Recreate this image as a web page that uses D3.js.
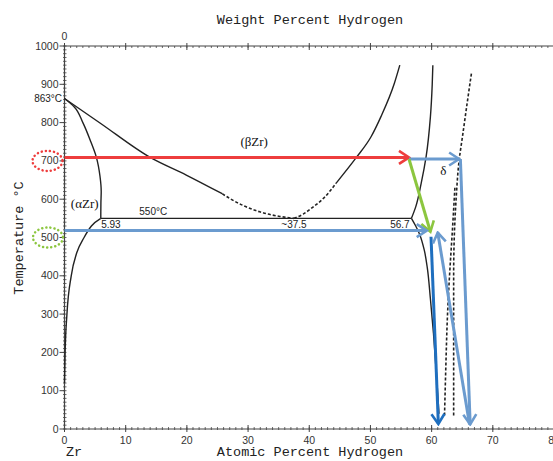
<!DOCTYPE html>
<html lang="en">
<head>
<meta charset="UTF-8" />
<title>Zr-H phase diagram</title>
<style>
    html, body { margin: 0; background: #fff; }
    svg { display: block; }
    .tick-label { font-family: "Liberation Sans", Arial, sans-serif; font-size: 10.5px; fill: #333; }
    .title { font-family: "Liberation Mono", monospace; font-size: 13.5px; fill: #222; }
    .phase { font-family: "Liberation Serif", serif; font-size: 13px; fill: #111; }
    .note { font-family: "Liberation Sans", Arial, sans-serif; font-size: 10px; fill: #222; }
</style>
</head>
<body>
<div id="chart"></div>
<script src="https://cdn.jsdelivr.net/npm/d3@7"></script>
<script>
// phase boundaries, [atomic % H, temperature °C]
const alphaSolvus = [[0, 120], [0.1, 200], [0.4, 300], [1.1, 400], [2.0, 460], [3.2, 500], [4.4, 530], [5.93, 550]];
const alphaBeta = [[0, 863], [1.6, 841], [3.0, 800], [4.3, 750], [5.2, 710], [5.8, 660], [6.0, 620], [5.95, 590], [5.93, 550]];
const betaLeftSolid = [[0, 863], [5.8, 799], [14.0, 709], [19.9, 663], [25.8, 614]];
const betaLeftDashed = [[25.8, 614], [27.0, 602], [31.9, 567], [35.2, 555], [37.5, 550]];
const betaRightDashed = [[37.5, 550], [39, 561], [40.5, 578], [42.5, 605], [44.4, 642]];
const betaRightSolid = [[44.4, 642], [47.7, 709], [50.1, 763], [51.7, 815], [53.9, 902], [54.8, 950]];
const deltaUpper = [[56.7, 550], [57.4, 580], [58.3, 642], [59.1, 711], [59.8, 815], [60.1, 900], [60.2, 950]];
const deltaLower = [[56.7, 550], [57.4, 530], [58.0, 510], [58.8, 467], [59.3, 420], [59.8, 340], [60.3, 250], [60.8, 140], [61.2, 40]];
const eutectoid = [[5.93, 550], [56.7, 550]];
const dashedA = [[66.5, 928], [65.8, 850], [65.1, 770], [64.5, 702], [64.0, 600], [63.7, 500], [63.6, 400], [63.6, 200], [63.6, 30]];
const dashedB = [[63.8, 630], [63.4, 520], [63.0, 420], [62.6, 300], [62.3, 150], [62.1, 30]];

// curves that run left-to-right use monotoneX, steep ones monotoneY
const solidX = [alphaSolvus, betaLeftSolid, betaRightSolid, eutectoid];
const solidY = [alphaBeta, deltaUpper, deltaLower];
const dashedX = [betaLeftDashed, betaRightDashed];
const dashedY = [dashedA, dashedB];

// annotation arrows [from, to, colour]
const arrows = [
    [[0, 709], [56.3, 709], "#ee3d3d"],
    [[56.3, 705], [64.5, 705], "#6b9bcf"],
    [[64.7, 705], [66.3, 12], "#6b9bcf"],
    [[56.3, 705], [59.8, 515], "#8cc63f"],
    [[0, 518], [59.2, 518], "#6b9bcf"],
    [[59.9, 502], [61.1, 13], "#1f6fbf"],
    [[66.2, 12], [61.0, 513], "#6b9bcf"]
];

const xTicks = d3.range(0, 81, 10);
const yTicks = d3.range(0, 1001, 100);

// text labels [at%, °C, text, class, anchor]
const labels = [
    [-0.4, 853, "863°C", "note", "end"],
    [31, 740, "(βZr)", "phase", "middle"],
    [3.3, 578, "(αZr)", "phase", "middle"],
    [14.5, 558, "550°C", "note", "middle"],
    [6.0, 526, "5.93", "note", "start"],
    [37.5, 526, "~37.5", "note", "middle"],
    [56.4, 526, "56.7", "note", "end"],
    [61.9, 664, "δ", "phase", "middle"]
];

const width = 553;
const height = 461;

const x = d3.scaleLinear().domain([0, 80]).range([64.5, 554]);
const y = d3.scaleLinear().domain([0, 1000]).range([429, 46]);

const svg = d3.select("#chart").append("svg")
    .attr("width", width)
    .attr("height", height);

const axisColor = "#444";

// left axis
svg.append("line").attr("x1", x(0)).attr("x2", x(0)).attr("y1", y(0)).attr("y2", y(1000))
    .attr("stroke", axisColor).attr("stroke-width", 1.2);
svg.selectAll(".yminor").data(d3.range(0, 1001, 10)).join("line")
    .attr("x1", x(0) - 1.5).attr("x2", x(0) + 2)
    .attr("y1", d => y(d)).attr("y2", d => y(d))
    .attr("stroke", axisColor).attr("stroke-width", 0.8);
svg.selectAll(".ymajor").data(yTicks).join("line")
    .attr("x1", x(0) - 5).attr("x2", x(0))
    .attr("y1", d => y(d)).attr("y2", d => y(d))
    .attr("stroke", axisColor).attr("stroke-width", 1);
svg.selectAll(".ylab").data(yTicks).join("text")
    .attr("class", "tick-label")
    .attr("x", x(0) - 6).attr("y", d => y(d) + 3.5)
    .attr("text-anchor", "end")
    .text(d => d);

// bottom axis
svg.append("line").attr("x1", x(0)).attr("x2", width).attr("y1", y(0)).attr("y2", y(0))
    .attr("stroke", axisColor).attr("stroke-width", 1.2);
svg.selectAll(".xminor").data(d3.range(0, 81, 1)).join("line")
    .attr("x1", d => x(d)).attr("x2", d => x(d))
    .attr("y1", y(0) - 2).attr("y2", y(0) + 1)
    .attr("stroke", axisColor).attr("stroke-width", 0.8);
svg.selectAll(".xmajor").data(xTicks).join("line")
    .attr("x1", d => x(d)).attr("x2", d => x(d))
    .attr("y1", y(0) - 4).attr("y2", y(0) + 3)
    .attr("stroke", axisColor).attr("stroke-width", 1);
svg.selectAll(".xlab").data(xTicks).join("text")
    .attr("class", "tick-label")
    .attr("x", d => x(d)).attr("y", y(0) + 15)
    .attr("text-anchor", "middle")
    .text(d => d);

// top axis (weight percent)
svg.append("line").attr("x1", x(0)).attr("x2", width).attr("y1", y(1000)).attr("y2", y(1000))
    .attr("stroke", axisColor).attr("stroke-width", 1.2);
svg.selectAll(".tminor").data(d3.range(0, 81, 1)).join("line")
    .attr("x1", d => x(d)).attr("x2", d => x(d))
    .attr("y1", y(1000)).attr("y2", y(1000) + 2)
    .attr("stroke", axisColor).attr("stroke-width", 0.8);
svg.selectAll(".tmajor").data(xTicks).join("line")
    .attr("x1", d => x(d)).attr("x2", d => x(d))
    .attr("y1", y(1000) - 3).attr("y2", y(1000) + 4)
    .attr("stroke", axisColor).attr("stroke-width", 1);
svg.append("text").attr("class", "tick-label")
    .attr("x", x(0)).attr("y", y(1000) - 6)
    .attr("text-anchor", "middle").text("0");

// titles
svg.append("text").attr("class", "title")
    .attr("x", 310).attr("y", 24).attr("text-anchor", "middle")
    .text("Weight Percent Hydrogen");
svg.append("text").attr("class", "title")
    .attr("x", 310).attr("y", 456).attr("text-anchor", "middle")
    .text("Atomic Percent Hydrogen");
svg.append("text").attr("class", "title")
    .attr("x", 74).attr("y", 456).attr("text-anchor", "middle")
    .text("Zr");
svg.append("text").attr("class", "title")
    .attr("transform", "translate(23,238) rotate(-90)")
    .attr("text-anchor", "middle")
    .text("Temperature °C");

// phase boundaries
const lineX = d3.line().x(d => x(d[0])).y(d => y(d[1])).curve(d3.curveMonotoneX);
const lineY = d3.line().x(d => x(d[0])).y(d => y(d[1])).curve(d3.curveMonotoneY);

function drawSet(data, gen, dashed) {
    svg.append("g").selectAll("path").data(data).join("path")
        .attr("d", d => gen(d))
        .attr("fill", "none").attr("stroke", "#222")
        .attr("stroke-width", dashed ? 1.6 : 1.4)
        .attr("stroke-dasharray", dashed ? "3,2" : null);
}
drawSet(solidX, lineX, false);
drawSet(solidY, lineY, false);
drawSet(dashedX, lineX, true);
drawSet(dashedY, lineY, true);

// labels
svg.selectAll(".lab").data(labels).join("text")
    .attr("class", d => d[3])
    .attr("x", d => x(d[0])).attr("y", d => y(d[1]))
    .attr("text-anchor", d => d[4])
    .text(d => d[2]);

// dotted circles around 700 and 500
svg.append("ellipse").attr("cx", 47.5).attr("cy", y(700)).attr("rx", 15).attr("ry", 10)
    .attr("fill", "none").attr("stroke", "#ee3d3d").attr("stroke-width", 2.5)
    .attr("stroke-dasharray", "0.1,4").attr("stroke-linecap", "round");
svg.append("ellipse").attr("cx", 48).attr("cy", y(500)).attr("rx", 15).attr("ry", 10)
    .attr("fill", "none").attr("stroke", "#8cc63f").attr("stroke-width", 2.5)
    .attr("stroke-dasharray", "0.1,4").attr("stroke-linecap", "round");

// arrows
const defs = svg.append("defs");
const colors = Array.from(new Set(arrows.map(a => a[2])));
colors.forEach((c, i) => {
    defs.append("marker")
        .attr("id", "head" + i)
        .attr("markerUnits", "userSpaceOnUse")
        .attr("viewBox", "-12 -8 14 16")
        .attr("markerWidth", 14).attr("markerHeight", 16)
        .attr("refX", 0).attr("refY", 0)
        .attr("orient", "auto")
        .append("path")
        .attr("d", "M-10,-6.5L0,0L-10,6.5")
        .attr("fill", "none").attr("stroke", c).attr("stroke-width", 2.6);
});

svg.selectAll(".arrow").data(arrows).join("line")
    .attr("x1", d => x(d[0][0])).attr("y1", d => y(d[0][1]))
    .attr("x2", d => x(d[1][0])).attr("y2", d => y(d[1][1]))
    .attr("stroke", d => d[2]).attr("stroke-width", 3)
    .attr("marker-end", d => "url(#head" + colors.indexOf(d[2]) + ")");
</script>
</body>
</html>
